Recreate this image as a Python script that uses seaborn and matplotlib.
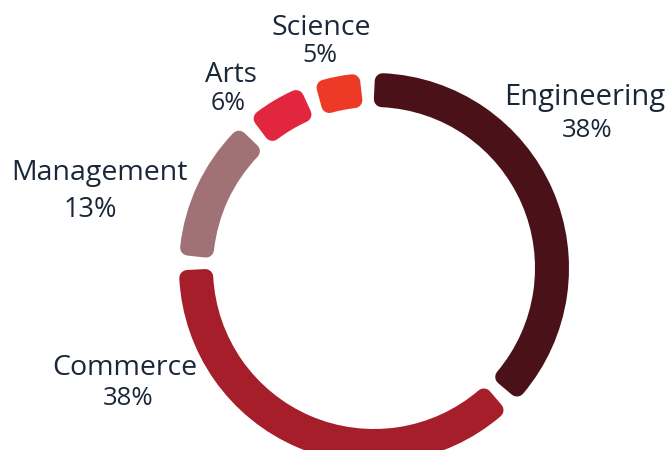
import matplotlib
matplotlib.use("Agg")
import matplotlib.pyplot as plt
import seaborn as sns

# data
fields = ["Engineering", "Commerce", "Management", "Arts", "Science"]
shares = [38, 38, 13, 6, 5]
hex_colours = ["#4a1218", "#a71e2b", "#a07276", "#e1263e", "#ec3a27"]

# label layout (pixels from top-left): centre x, baseline y for name and percent
label_pos = {
    "Engineering": (585, 105, 587, 137),
    "Commerce": (125, 375, 128, 405),
    "Management": (99, 180, 90, 217),
    "Arts": (231, 82, 228, 110),
    "Science": (321, 35, 320, 62),
}
name_size = {"Engineering": 21, "Commerce": 20.5, "Management": 20.5, "Arts": 20, "Science": 20.5}
pct_size = {"Engineering": 18.5, "Commerce": 18.5, "Management": 19.5, "Arts": 18, "Science": 18}

sns.set_theme(style="white")
plt.rcParams["font.family"] = ["Open Sans", "DejaVu Sans"]
palette = sns.color_palette(hex_colours)

W, H = 669, 450
fig = plt.figure(figsize=(W / 100, H / 100), dpi=100)

# ring geometry in pixels
cx, cy, R = 374, 268, 195
ring = 34
corner = 16          # stroke width that gives the rounded corners
gap_px = 13

ax = fig.add_axes([(cx - R) / W, (H - cy - R) / H, 2 * R / W, 2 * R / H])

r_out = (R - corner / 2) / R
w_ring = (ring - corner) / R
wedges, _ = ax.pie(
    shares, colors=palette, startangle=92, counterclock=False,
    radius=r_out,
    wedgeprops=dict(width=w_ring, linewidth=corner * 72 / 100, joinstyle="round"),
)

mid_r = R - ring / 2
half_gap = (gap_px + corner) / mid_r * 57.2958 / 2
for w in wedges:
    w.set_edgecolor(w.get_facecolor())
    w.set_theta1(w.theta1 + half_gap)
    w.set_theta2(w.theta2 - half_gap)
    w.set_clip_on(False)

ax.set_xlim(-1, 1)
ax.set_ylim(-1, 1)
ax.set_aspect("equal")
ax.axis("off")

text_colour = "#1a2738"
for name, val in zip(fields, shares):
    nx, ny, px, py = label_pos[name]
    fig.text(nx / W, 1 - ny / H, name, ha="center", va="baseline",
             fontsize=name_size[name], color=text_colour)
    fig.text(px / W, 1 - py / H, f"{val}%", ha="center", va="baseline",
             fontsize=pct_size[name], color=text_colour)

fig.savefig("out.png", dpi=100, facecolor="white")
